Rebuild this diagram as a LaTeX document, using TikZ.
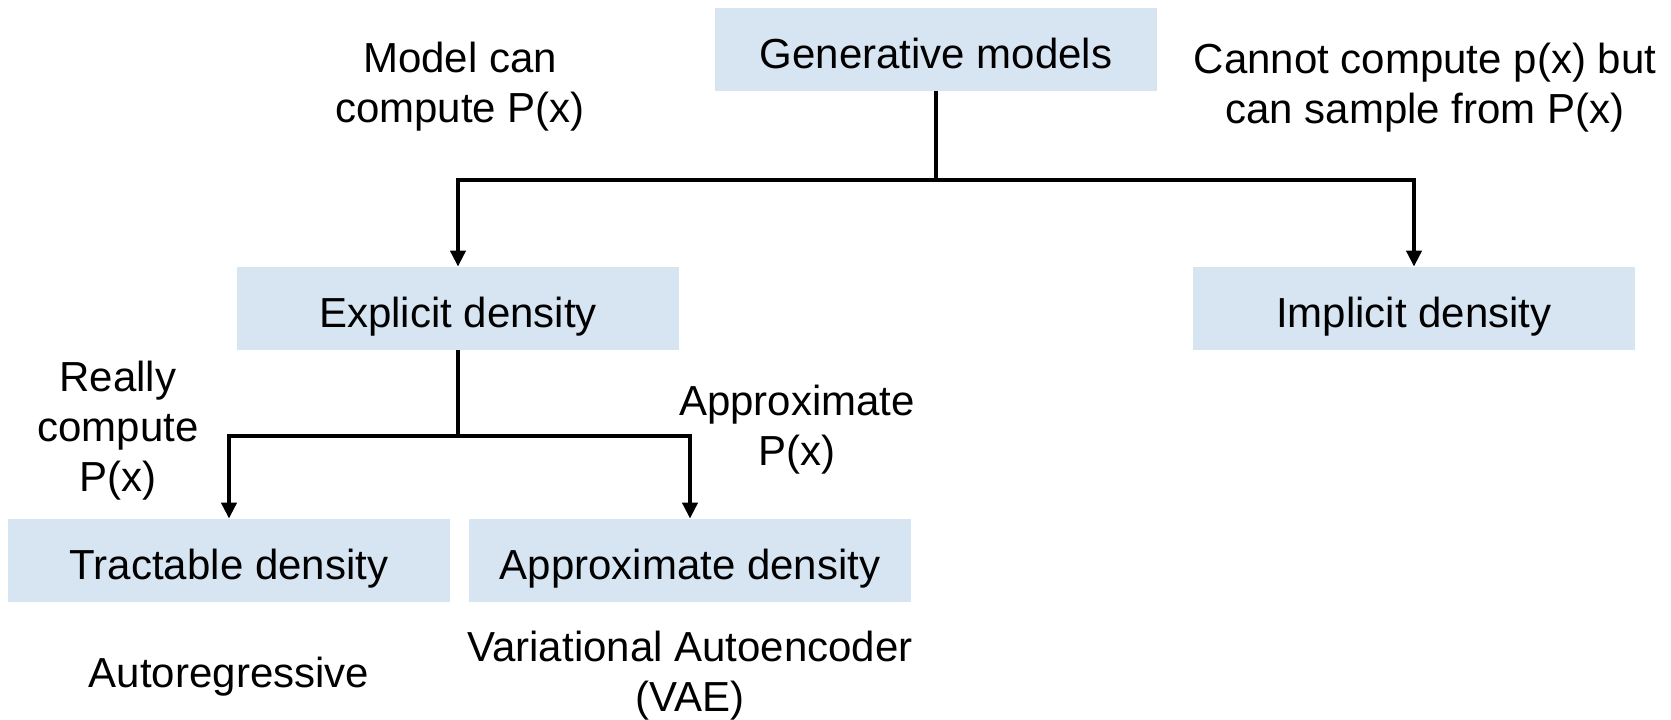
\documentclass[tikz,border=0pt]{standalone}
\usepackage{fontspec}
\setmainfont{Liberation Sans}
\usetikzlibrary{arrows.meta}
\definecolor{boxblue}{RGB}{215,228,241}
\begin{document}
\begin{tikzpicture}[x=0.5pt,y=-0.5pt,
  box/.style={fill=boxblue, minimum width=221pt, minimum height=41.5pt, inner sep=0pt,
    text height=18.5pt, text depth=0pt, font=\fontsize{21}{25}\selectfont},
  lbl/.style={align=center, inner sep=0pt, font=\fontsize{21}{25}\selectfont},
  conn/.style={line width=2.4pt, line join=miter},
  arr/.style={conn, -{Triangle[width=7.5pt,length=8pt]}}]
\useasboundingbox (0,0) rectangle (1671,719);
% boxes
\node[box] (gen) at (936,49.5) {Generative models};
\node[box] (exp) at (458,308.5) {Explicit density};
\node[box] (imp) at (1414,308.5) {Implicit density};
\node[box] (tra) at (229,560.5) {Tractable density};
\node[box] (app) at (690,560.5) {Approximate density};
% labels
\node[lbl] (l1) at (460,87) {Model can\\compute P(x)};
\node[lbl] (l2) at (1425,87.5) {Cannot compute p(x) but\\can sample from P(x)};
\node[lbl] (l3) at (118,430.5) {Really\\compute\\P(x)};
\node[lbl] (l4) at (797,430) {Approximate\\P(x)};
\node[lbl, anchor=base] (l5) at (229,687) {Autoregressive};
\node[lbl] (l6) at (690,675.5) {Variational Autoencoder\\(VAE)};
% connectors
\coordinate (j1) at (936,180);
\coordinate (j2) at (458,436);
\draw[conn] (gen.south) -- (j1);
\draw[arr] (j1) -| (exp.north);
\draw[arr] (j1) -| (imp.north);
\draw[conn] (exp.south) -- (j2);
\draw[arr] (j2) -| (tra.north);
\draw[arr] (j2) -| (app.north);
\end{tikzpicture}
\end{document}
